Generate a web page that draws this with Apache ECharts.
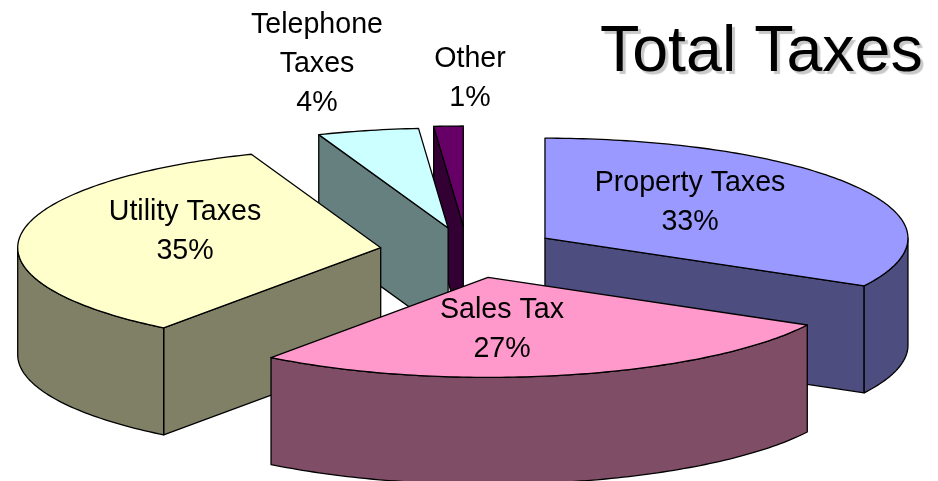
<!DOCTYPE html>
<html>
<head>
<meta charset="utf-8">
<style>html,body{margin:0;padding:0;background:#fff}#c{width:938px;height:481px}</style>
<script src="https://cdn.jsdelivr.net/npm/echarts@6/dist/echarts.min.js"></script>
</head>
<body>
<div id="c"></div>
<script>
const categories = ['Property\u00a0Taxes', 'Sales Tax', 'Utility Taxes', 'Telephone\nTaxes', 'Other'];
const values = [32.9, 27.3, 34.0, 4.5, 1.3];
const percentLabels = ['33%', '27%', '35%', '4%', '1%'];
const topColors = ['#9999FF', '#FF99CC', '#FFFFCC', '#CCFFFF', '#660066'];
const sideColors = ['#4D4D80', '#804D66', '#808066', '#668080', '#330033'];
const labelAnchors = [[690, 203], [502, 330], [185, 232], [317, 64], [470, 79]];
const explode = [0.25, 0.27, 0.24, 0.235, 0.25];
const drawOrder = [4, 3, 0, 2, 1];

const CX = 467, CY = 251, RX = 363, RY = 100, DEPTH = 107;
const FONT = '"Liberation Sans", Arial, sans-serif';
const total = values.reduce((a, b) => a + b, 0);
const starts = [];
values.reduce((acc, v, i) => { starts[i] = acc; return acc + v; }, 0);

function rad(v) { return v / total * Math.PI * 2; }

function renderItem(params, api) {
  const i = api.value(0);
  const a0 = rad(starts[i]);
  const a1 = rad(starts[i] + values[i]);
  const mid = (a0 + a1) / 2;
  const ox = CX + explode[i] * RX * Math.sin(mid);
  const oy = CY - explode[i] * RY * Math.cos(mid);
  const pt = (a, d) => [ox + RX * Math.sin(a), oy - RY * Math.cos(a) + (d || 0)];
  const arc = (s, e, d) => {
    const n = Math.max(2, Math.ceil((e - s) / (Math.PI / 180)));
    const out = [];
    for (let k = 0; k <= n; k++) out.push(pt(s + (e - s) * k / n, d));
    return out;
  };
  const line = { stroke: '#000', lineWidth: 1.3, lineJoin: 'round' };
  const side = { fill: sideColors[i], ...line };
  const children = [];
  const poly = (points, style) => children.push({ type: 'polygon', shape: { points }, style, silent: true });
  const down = [ox, oy + DEPTH];
  if (Math.sin(a0) < 0) poly([[ox, oy], pt(a0), pt(a0, DEPTH), down], side);
  if (Math.sin(a1) > 0) poly([[ox, oy], pt(a1), pt(a1, DEPTH), down], side);
  const vs = Math.max(a0, Math.PI / 2), ve = Math.min(a1, Math.PI * 1.5);
  if (ve > vs) poly(arc(vs, ve, 0).concat(arc(vs, ve, DEPTH).reverse()), side);
  poly([[ox, oy]].concat(arc(a0, a1, 0)), { fill: topColors[i], ...line });
  children.push({
    type: 'text', z2: 100, silent: true,
    style: {
      x: labelAnchors[i][0], y: labelAnchors[i][1],
      text: categories[i] + '\n' + percentLabels[i],
      align: 'center', verticalAlign: 'middle',
      font: '28.6px ' + FONT, lineHeight: 39, fill: '#000'
    }
  });
  return { type: 'group', children };
}

const chart = echarts.init(document.getElementById('c'), null, { renderer: 'canvas' });
chart.setOption({
  animation: false,
  backgroundColor: '#fff',
  title: {
    text: 'Total Taxes', left: 600, top: 21, padding: 0,
    textStyle: {
      fontFamily: FONT, fontSize: 64.5, fontWeight: 'normal', color: '#000',
      textShadowColor: '#c8c8c8', textShadowBlur: 1, textShadowOffsetX: 3, textShadowOffsetY: 3
    }
  },
  series: [{
    type: 'custom',
    coordinateSystem: 'none',
    silent: true,
    clip: false,
    renderItem,
    encode: { value: 1 },
    data: drawOrder.map(i => ({ name: categories[i], value: [i, values[i]] }))
  }]
});
</script>
</body>
</html>
